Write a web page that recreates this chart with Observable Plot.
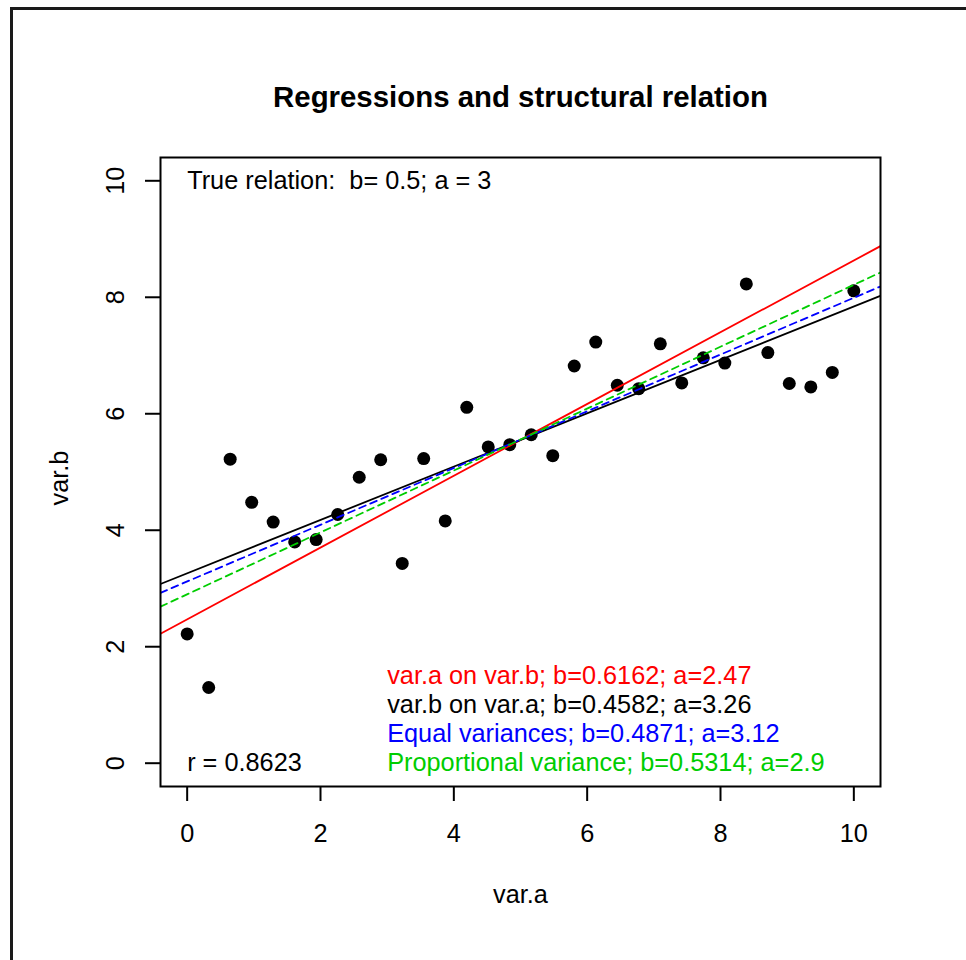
<!DOCTYPE html>
<html>
<head>
<meta charset="utf-8">
<script src="https://cdn.jsdelivr.net/npm/d3@7"></script>
<script src="https://cdn.jsdelivr.net/npm/@observablehq/plot@0.6"></script>
<style>
html, body { margin: 0; padding: 0; background: #fff; overflow: hidden; }
#wrap { position: relative; width: 966px; height: 960px; }
#border { position: absolute; left: 10px; top: 7px; width: 1000px; height: 1000px; border: 3px solid #1a1a1a; box-sizing: border-box; pointer-events: none; }
</style>
</head>
<body>
<div id="wrap"><div id="border"></div></div>
<script>
// ---- data ----
const varA = [0, 0.323, 0.645, 0.968, 1.290, 1.613, 1.935, 2.258, 2.581, 2.903, 3.226, 3.548, 3.871, 4.194, 4.516, 4.839,
              5.161, 5.484, 5.806, 6.129, 6.452, 6.774, 7.097, 7.419, 7.742, 8.065, 8.387, 8.710, 9.032, 9.355, 9.677, 10];
const varB = [2.22, 1.30, 5.22, 4.48, 4.14, 3.80, 3.84, 4.27, 4.91, 5.21, 3.43, 5.23, 4.16, 6.11, 5.43, 5.47,
              5.64, 5.28, 6.82, 7.23, 6.49, 6.43, 7.20, 6.53, 6.96, 6.87, 8.23, 7.05, 6.52, 6.46, 6.71, 8.11];

const fitNames = ["var.a on var.b", "var.b on var.a", "Equal variances", "Proportional variance"];
const fitSlopes = [0.6162, 0.4582, 0.4871, 0.5314];
const fitIntercepts = [2.47, 3.26, 3.12, 2.9];
const fitColors = ["#FF0000", "#000000", "#0000FF", "#00CD00"];
const fitDashed = [false, false, true, true];
const fitLabelY = [1.5, 1, 0.5, 0];
const fitLabelX = 3;

const xTicks = [0, 2, 4, 6, 8, 10];
const yTicks = [0, 2, 4, 6, 8, 10];
const xDomain = [-0.4, 10.4];
const yDomain = [-0.4, 10.4];

const titleText = "Regressions and structural relation";
const xLabel = "var.a";
const yLabel = "var.b";
const trueRelation = "True relation:  b= 0.5; a = 3";
const rText = "r = 0.8623";

// ---- build tables ----
const points = varA.map((a, i) => ({a, b: varB[i]}));
const fits = fitNames.map((name, i) => ({
  name, slope: fitSlopes[i], intercept: fitIntercepts[i], color: fitColors[i], dashed: fitDashed[i],
  label: `${name}; b=${fitSlopes[i]}; a=${fitIntercepts[i]}`, ly: fitLabelY[i]
}));
const lineData = fits.flatMap(f => xDomain.map(x => ({name: f.name, x, y: f.intercept + f.slope * x, color: f.color, dashed: f.dashed})));

const font = "'Liberation Sans', Arial, Helvetica, sans-serif";
const fs = 25.3;

const lineMarks = fits.map(f => Plot.line(lineData.filter(d => d.name === f.name), {
  x: "x", y: "y", stroke: f.color, strokeWidth: 1.8,
  strokeDasharray: f.dashed ? "7,5" : null, clip: true
}));

const chart = Plot.plot({
  width: 966,
  height: 960,
  marginLeft: 160,
  marginRight: 86,
  marginTop: 157,
  marginBottom: 174,
  x: {domain: xDomain, ticks: xTicks},
  y: {domain: yDomain, ticks: yTicks},
  style: {fontFamily: font, fontSize: fs + "px", color: "#000", background: "transparent", overflow: "visible"},
  marks: [
    Plot.axisX({ticks: xTicks, tickSize: 15, tickPadding: 23, strokeWidth: 2, fontSize: fs, label: null}),
    Plot.axisY({ticks: yTicks, tickSize: 15, strokeWidth: 2, tickFormat: () => "", label: null}),
    Plot.text(yTicks, {y: d => d, text: d => String(d), frameAnchor: "left", dx: -37, rotate: -90,
      textAnchor: "middle", lineAnchor: "bottom", fontSize: fs}),
    Plot.dot(points, {x: "a", y: "b", r: 6.5, fill: "#000", stroke: "none"}),
    ...lineMarks,
    Plot.frame({stroke: "#000", strokeWidth: 2}),
    Plot.text([trueRelation], {x: 0, y: 10, text: d => d, textAnchor: "start", lineAnchor: "bottom", dy: 8, fontSize: fs}),
    Plot.text([rText], {x: 0, y: 0, text: d => d, textAnchor: "start", lineAnchor: "bottom", dy: 8, fontSize: fs}),
    Plot.text(fits, {x: () => fitLabelX, y: "ly", text: "label", fill: "color", textAnchor: "start", lineAnchor: "bottom", dy: 8, fontSize: fs}),
    Plot.text([titleText], {frameAnchor: "top", text: d => d, textAnchor: "middle", lineAnchor: "bottom", dy: -51, fontSize: 29.4, fontWeight: "bold"}),
    Plot.text([xLabel], {frameAnchor: "bottom", text: d => d, textAnchor: "middle", lineAnchor: "bottom", dy: 116, fontSize: fs}),
    Plot.text([yLabel], {frameAnchor: "left", text: d => d, rotate: -90, textAnchor: "middle", lineAnchor: "bottom", dx: -93, dy: 6, fontSize: fs})
  ]
});
document.getElementById("wrap").prepend(chart);
</script>
</body>
</html>
